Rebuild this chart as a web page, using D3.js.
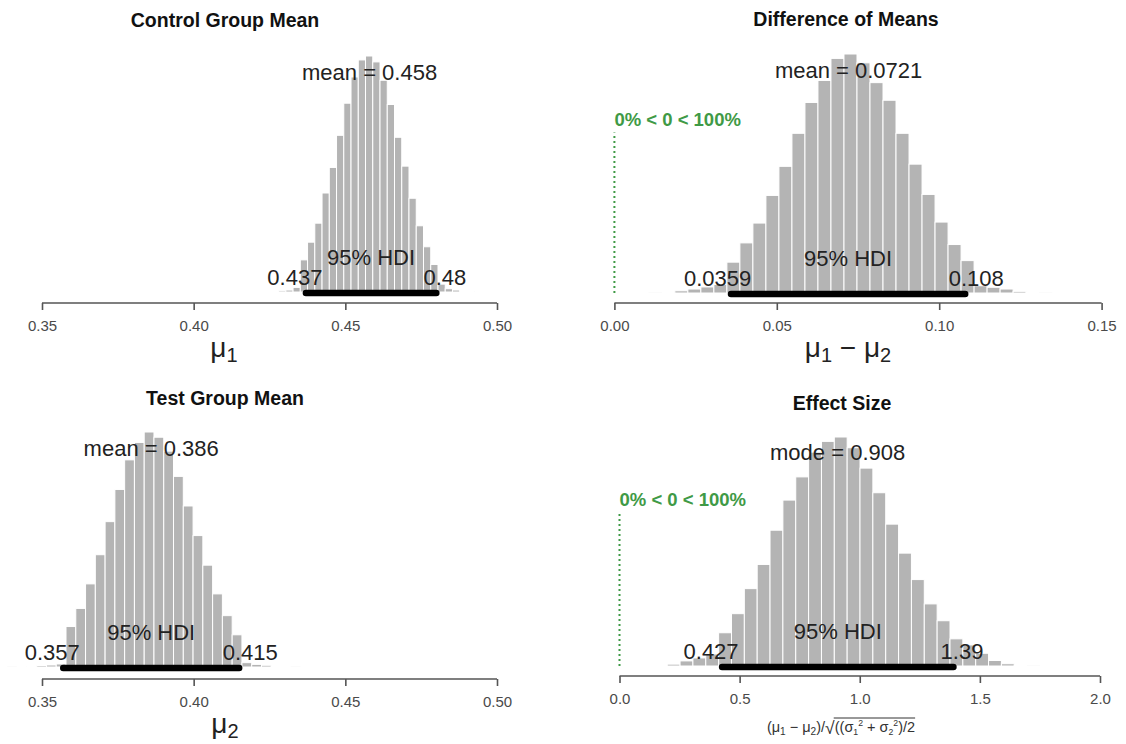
<!DOCTYPE html>
<html><head><meta charset="utf-8">
<script src="https://cdn.jsdelivr.net/npm/d3@7"></script>
<style>
body{margin:0;background:#fff}
svg{display:block}
text{font-family:"Liberation Sans",Arial,Helvetica,sans-serif}
</style>
</head><body>
<svg id="chart" width="1126" height="744"></svg>
<script>
// ---------------- data ----------------
const titles = ["Control Group Mean", "Difference of Means", "Test Group Mean", "Effect Size"];

// Control group mean (mu1)
const mu1Density = [0.1,0.2,0.3,0.7,4.9,7.6,10.5,15.1,19.0,23.9,28.8,32.8,35.4,36.0,35.1,32.3,28.6,23.6,19.2,14.3,10.1,6.9,4.2,1.2,0.5,0.3,0.15,0.1];
const mu1FirstBreak = 0.4256;
const mu1HDI = [0.437, 0.48];
const mu1Centre = 0.458;
const mu1Ticks = [0.35, 0.40, 0.45, 0.50];

// Difference of means (mu1 - mu2)
const diffDensity = [0.03,0.06,0.2,0.36,0.55,0.77,2.8,4.55,6.35,8.86,11.5,14.5,17.3,19.3,21.3,21.7,20.9,19.1,17.5,14.5,11.7,8.95,6.44,4.4,2.94,0.66,0.52,0.36,0.15,0.06,0.03];
const diffFirstBreak = 0.0106;
const diffHDI = [0.0359, 0.108];
const diffCentre = 0.0721;
const diffTicks = [0.00, 0.05, 0.10, 0.15];

// Test group mean (mu2)
const mu2Density = [0.03,0.06,0.1,0.17,0.23,0.35,4.65,6.73,9.55,12.9,16.7,20.4,23.8,25.8,27.0,26.4,24.8,21.9,18.5,15.1,11.7,8.4,5.9,3.7,0.5,0.3,0.2,0.1,0.06,0.03];
const mu2FirstBreak = 0.33858;
const mu2HDI = [0.357, 0.415];
const mu2Centre = 0.386;
const mu2Ticks = [0.35, 0.40, 0.45, 0.50];

// Effect size
const effDensity = [0.005,0.013,0.036,0.057,0.085,0.235,0.37,0.547,0.718,0.96,1.173,1.337,1.512,1.588,1.619,1.543,1.399,1.225,1.003,0.798,0.611,0.439,0.32,0.192,0.149,0.09,0.039,0.016,0.006,0.002];
const effFirstBreak = 0.1451;
const effHDI = [0.427, 1.39];
const effCentre = 0.908;
const effTicks = [0.0, 0.5, 1.0, 1.5, 2.0];

const compValue = 0;
const compText = "0% < 0 < 100%";

// ---------------- layout / style ----------------
const panels = [
  {title: titles[0], dens: mu1Density, first: mu1FirstBreak, hdi: mu1HDI, centre: mu1Centre, centreLabel: "mean", ticks: mu1Ticks, fmt: ".2f",
   domain: [0.35, 0.50], x0: 42, x1: 497, base: 292, top: 56, axisY: 303, titleX: 225, titleY: 27, xlab: "mu1", xlabX: 224, xlabY: 357, comp: false},
  {title: titles[1], dens: diffDensity, first: diffFirstBreak, hdi: diffHDI, centre: diffCentre, centreLabel: "mean", ticks: diffTicks, fmt: ".2f",
   domain: [0.00, 0.15], x0: 614.4, x1: 1101.6, base: 293, top: 54, axisY: 303, titleX: 846, titleY: 26, xlab: "diff", xlabX: 848, xlabY: 357, comp: true},
  {title: titles[2], dens: mu2Density, first: mu2FirstBreak, hdi: mu2HDI, centre: mu2Centre, centreLabel: "mean", ticks: mu2Ticks, fmt: ".2f",
   domain: [0.35, 0.50], x0: 42, x1: 497, base: 667, top: 432, axisY: 679, titleX: 225, titleY: 405, xlab: "mu2", xlabX: 225, xlabY: 733, comp: false},
  {title: titles[3], dens: effDensity, first: effFirstBreak, hdi: effHDI, centre: effCentre, centreLabel: "mode", ticks: effTicks, fmt: ".1f",
   domain: [0.0, 2.0], x0: 619.5, x1: 1100, base: 666, top: 437, axisY: 676, titleX: 842, titleY: 410, xlab: "eff", xlabX: 841, xlabY: 732, comp: true}
];

const barFill = "#b4b4b4";
const green = "#3f9a46";
const svg = d3.select("#chart");

function fmtNum(v){ return String(v); }

panels.forEach(p => {
  const g = svg.append("g");
  const x = d3.scaleLinear().domain(p.domain).range([p.x0, p.x1]);
  const maxD = d3.max(p.dens);
  const y = d3.scaleLinear().domain([0, maxD]).range([p.base, p.top]);
  const bw = (p.hdi[1] - p.hdi[0]) / 18;
  const bins = p.dens.map((d, i) => ({x0: p.first + i * bw, x1: p.first + (i + 1) * bw, d}));

  // bars
  g.selectAll("rect.bar").data(bins).join("rect")
    .attr("class", "bar")
    .attr("x", b => x(b.x0))
    .attr("width", b => x(b.x1) - x(b.x0))
    .attr("y", b => y(b.d))
    .attr("height", b => y(0) - y(b.d))
    .attr("fill", barFill)
    .attr("stroke", "#ffffff")
    .attr("stroke-width", 1);

  // axis
  const axis = d3.axisBottom(x).tickValues(p.ticks).tickFormat(d3.format(p.fmt)).tickSize(7).tickPadding(10);
  const ag = g.append("g").attr("transform", `translate(0,${p.axisY})`).call(axis);
  ag.select(".domain").attr("d", `M${x(p.ticks[0])},0H${x(p.ticks[p.ticks.length-1])}`)
    .attr("stroke", "#555").attr("stroke-width", 1.6);
  ag.selectAll(".tick line").attr("stroke", "#555").attr("stroke-width", 1.6);
  ag.selectAll(".tick text").attr("font-size", 15).attr("fill", "#4a4a4a")
    .attr("font-family", '"Liberation Sans",Arial,sans-serif');

  // HDI bar
  g.append("line")
    .attr("x1", x(p.hdi[0])).attr("x2", x(p.hdi[1]))
    .attr("y1", y(0) + 1).attr("y2", y(0) + 1)
    .attr("stroke", "#000").attr("stroke-width", 6.5).attr("stroke-linecap", "round");

  // 95% HDI text
  g.append("text").attr("x", x((p.hdi[0] + p.hdi[1]) / 2)).attr("y", y(0) - 27)
    .attr("text-anchor", "middle").attr("font-size", 22).attr("fill", "#222").text("95% HDI");

  // HDI limits
  const lo = g.append("text").attr("y", y(0) - 7).attr("font-size", 22).attr("fill", "#222").text(fmtNum(p.hdi[0]));
  lo.attr("x", x(p.hdi[0]) - 0.7 * lo.node().getComputedTextLength());
  const hi = g.append("text").attr("y", y(0) - 7).attr("font-size", 22).attr("fill", "#222").text(fmtNum(p.hdi[1]));
  hi.attr("x", x(p.hdi[1]) - 0.3 * hi.node().getComputedTextLength());

  // central tendency
  g.append("text").attr("x", x(p.centre)).attr("y", y(0.9 * maxD))
    .attr("text-anchor", "middle").attr("font-size", 22).attr("fill", "#222")
    .text(`${p.centreLabel} = ${fmtNum(p.centre)}`);

  // comparison value
  if (p.comp) {
    g.append("line").attr("x1", x(compValue)).attr("x2", x(compValue))
      .attr("y1", y(0)).attr("y2", y(0.96 * 0.7 * maxD))
      .attr("stroke", green).attr("stroke-width", 2).attr("stroke-dasharray", "2,3");
    g.append("text").attr("x", x(compValue)).attr("y", y(0.7 * maxD))
      .attr("font-size", 18.5).attr("font-weight", "bold").attr("fill", green).text(compText);
  }

  // title
  g.append("text").attr("x", p.titleX).attr("y", p.titleY).attr("text-anchor", "middle")
    .attr("font-size", 19.5).attr("font-weight", "bold").attr("fill", "#111").text(p.title);

  // x label
  if (p.xlab === "mu1" || p.xlab === "mu2") {
    const t = g.append("text").attr("x", p.xlabX).attr("y", p.xlabY).attr("text-anchor", "middle")
      .attr("font-size", 28).attr("fill", "#222");
    t.append("tspan").text("μ");
    t.append("tspan").attr("font-size", 20).attr("dy", 5).text(p.xlab === "mu1" ? "1" : "2");
  } else if (p.xlab === "diff") {
    const t = g.append("text").attr("x", p.xlabX).attr("y", p.xlabY).attr("text-anchor", "middle")
      .attr("font-size", 28).attr("fill", "#222");
    t.append("tspan").text("μ");
    t.append("tspan").attr("font-size", 20).attr("dy", 5).text("1");
    t.append("tspan").attr("dy", -5).text(" − μ");
    t.append("tspan").attr("font-size", 20).attr("dy", 5).text("2");
  } else {
    const fs = 14.5;
    const lg = g.append("g");
    const a = lg.append("text").attr("x", 0).attr("y", 0).attr("font-size", fs).attr("fill", "#333");
    a.append("tspan").text("(μ");
    a.append("tspan").attr("font-size", fs * 0.7).attr("dy", 3).text("1");
    a.append("tspan").attr("dy", -3).text(" − μ");
    a.append("tspan").attr("font-size", fs * 0.7).attr("dy", 3).text("2");
    a.append("tspan").attr("dy", -3).text(")/");
    const aw = a.node().getComputedTextLength();
    const r = lg.append("text").attr("x", aw).attr("y", 2).attr("font-size", fs + 3).attr("fill", "#333").text("√");
    const rw = r.node().getComputedTextLength();
    const b = lg.append("text").attr("x", aw + rw).attr("y", 0).attr("font-size", fs).attr("fill", "#333");
    b.append("tspan").text("((σ");
    b.append("tspan").attr("font-size", fs * 0.6).attr("dy", 3).text("1");
    b.append("tspan").attr("font-size", fs * 0.6).attr("dy", -9).text("2");
    b.append("tspan").attr("dy", 6).text(" + σ");
    b.append("tspan").attr("font-size", fs * 0.6).attr("dy", 3).text("2");
    b.append("tspan").attr("font-size", fs * 0.6).attr("dy", -9).text("2");
    b.append("tspan").attr("dy", 6).text(")/2");
    const bb = b.node().getBBox();
    lg.append("line").attr("x1", aw + rw - 1).attr("x2", bb.x + bb.width)
      .attr("y1", -fs + 0.5).attr("y2", -fs + 0.5).attr("stroke", "#333").attr("stroke-width", 1);
    const total = lg.node().getBBox();
    lg.attr("transform", `translate(${p.xlabX - total.width / 2 - total.x},${p.xlabY})`);
  }
});
</script>
</body></html>
